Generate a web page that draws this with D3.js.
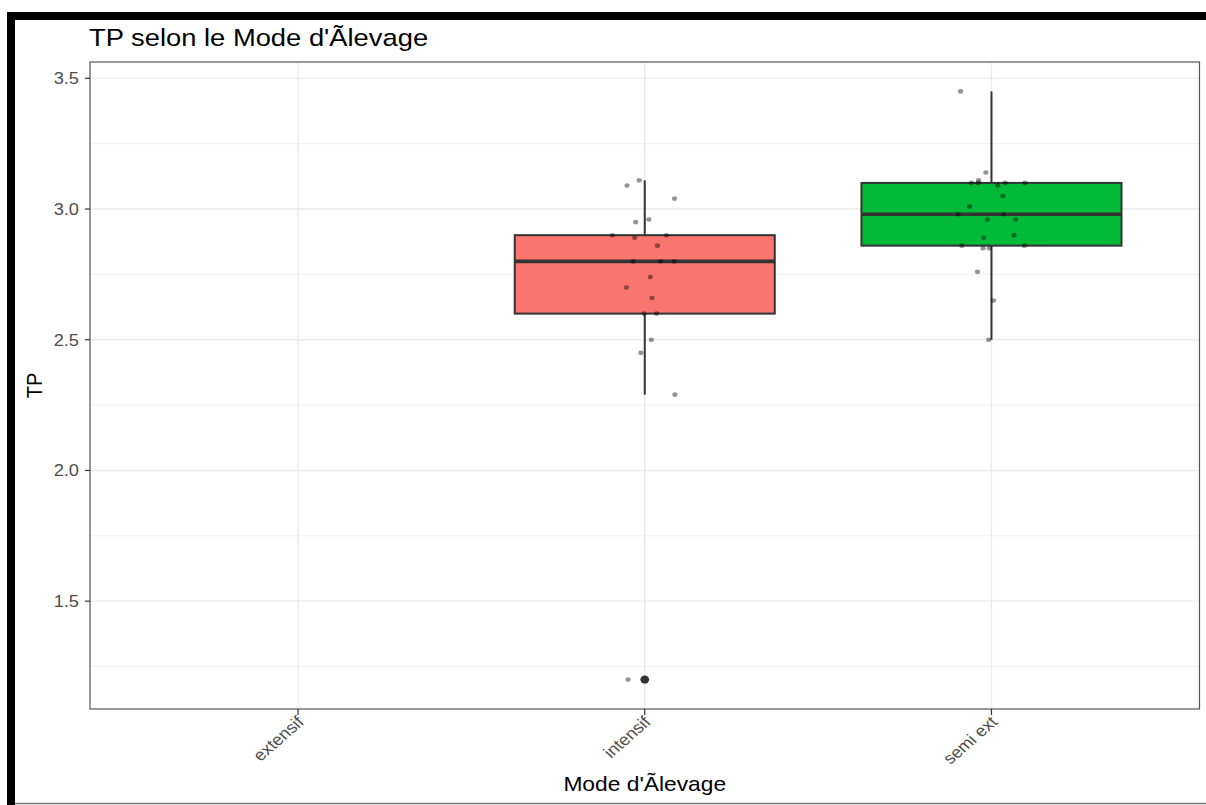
<!DOCTYPE html>
<html>
<head>
<meta charset="utf-8">
<script src="https://cdn.jsdelivr.net/npm/d3@7"></script>
<style>
  html, body { margin: 0; padding: 0; background: #fff; }
  svg { display: block; }
  text { font-family: "Liberation Sans", Arial, sans-serif; }
</style>
</head>
<body>
<svg id="chart" width="1206" height="805"></svg>
<script>
// ---------- data ----------
const titleText = "TP selon le Mode d'Ãlevage";
const xTitle = "Mode d'Ãlevage";
const yTitle = "TP";
const categories = ["extensif", "intensif", "semi ext"];
const yTicks = [1.5, 2.0, 2.5, 3.0, 3.5];
const yMinorTicks = [1.25, 1.75, 2.25, 2.75, 3.25];

const boxCategories = ["intensif", "semi ext"];
const boxColors = ["#F8766D", "#00BA38"];
const q1 = [2.60, 2.86];
const medians = [2.80, 2.98];
const q3 = [2.90, 3.10];
const whiskerLow = [2.29, 2.50];
const whiskerHigh = [3.11, 3.45];
const outliers = [[1.20], []];

const intensifValues = [3.09, 3.11, 3.04, 2.95, 2.96, 2.90, 2.89, 2.90, 2.86, 2.80, 2.80, 2.80, 2.74, 2.70, 2.66, 2.60, 2.60, 2.50, 2.45, 2.29, 1.20];
const intensifJitter = [-0.051, -0.016, 0.086, -0.026, 0.012, -0.093, -0.029, 0.063, 0.037, -0.033, 0.046, 0.085, 0.016, -0.053, 0.021, -0.002, 0.034, 0.019, -0.011, 0.087, -0.048];
const semiValues = [3.45, 3.14, 3.10, 3.11, 3.10, 3.09, 3.10, 3.10, 3.05, 3.01, 2.98, 2.98, 2.96, 2.96, 2.90, 2.89, 2.86, 2.85, 2.85, 2.86, 2.76, 2.65, 2.50];
const semiJitter = [-0.089, -0.016, -0.058, -0.037, -0.038, 0.018, 0.040, 0.097, 0.033, -0.063, -0.096, 0.035, -0.012, 0.070, 0.065, -0.022, -0.085, -0.024, -0.006, 0.095, -0.040, 0.006, -0.008];

// ---------- layout ----------
const W = 1206, H = 805;
const panel = { left: 90, right: 1199.5, top: 62, bottom: 709 };
const SX = 1.14; // horizontal text stretch seen in the reference

const svg = d3.select("#chart");

const x = d3.scalePoint().domain(categories).range([panel.left, panel.right]).padding(0.6);
const step = x.step();
const yExt = [1.2, 3.45];
const pad = (yExt[1] - yExt[0]) * 0.05;
const y = d3.scaleLinear().domain([yExt[0] - pad, yExt[1] + pad]).range([panel.bottom, panel.top]);

// outer frame (black bars as in reference)
svg.append("rect").attr("x", 7).attr("y", 12).attr("width", W - 7).attr("height", 8).attr("fill", "#000");
svg.append("rect").attr("x", 7).attr("y", 12).attr("width", 8).attr("height", H - 12).attr("fill", "#000");
svg.append("line").attr("x1", 15).attr("x2", W).attr("y1", 803.5).attr("y2", 803.5).attr("stroke", "#777").attr("stroke-width", 1.5);

// grid
const grid = svg.append("g");
grid.selectAll(".ymin").data(yMinorTicks).join("line")
  .attr("x1", panel.left).attr("x2", panel.right)
  .attr("y1", d => y(d)).attr("y2", d => y(d))
  .attr("stroke", "#F0F0F0").attr("stroke-width", 1);
grid.selectAll(".ymaj").data(yTicks).join("line")
  .attr("x1", panel.left).attr("x2", panel.right)
  .attr("y1", d => y(d)).attr("y2", d => y(d))
  .attr("stroke", "#EBEBEB").attr("stroke-width", 1.4);
grid.selectAll(".xmaj").data(categories).join("line")
  .attr("x1", d => x(d)).attr("x2", d => x(d))
  .attr("y1", panel.top).attr("y2", panel.bottom)
  .attr("stroke", "#EBEBEB").attr("stroke-width", 1.4);

// boxes
const boxW = step * 0.75;
const boxes = svg.append("g");
boxCategories.forEach((c, i) => {
  const cx = x(c);
  const g = boxes.append("g");
  g.append("line").attr("x1", cx).attr("x2", cx).attr("y1", y(q3[i])).attr("y2", y(whiskerHigh[i]))
    .attr("stroke", "#333").attr("stroke-width", 2);
  g.append("line").attr("x1", cx).attr("x2", cx).attr("y1", y(q1[i])).attr("y2", y(whiskerLow[i]))
    .attr("stroke", "#333").attr("stroke-width", 2);
  g.append("rect").attr("x", cx - boxW / 2).attr("width", boxW)
    .attr("y", y(q3[i])).attr("height", y(q1[i]) - y(q3[i]))
    .attr("fill", boxColors[i]).attr("stroke", "#333").attr("stroke-width", 2);
  g.append("line").attr("x1", cx - boxW / 2).attr("x2", cx + boxW / 2)
    .attr("y1", y(medians[i])).attr("y2", y(medians[i]))
    .attr("stroke", "#333").attr("stroke-width", 3.6);
  g.selectAll("ellipse").data(outliers[i]).join("ellipse")
    .attr("cx", cx).attr("cy", d => y(d)).attr("rx", 4.4).attr("ry", 4).attr("fill", "#333");
});

// jittered points
const pts = svg.append("g");
const jitterSets = [
  { cat: "intensif", values: intensifValues, jitter: intensifJitter },
  { cat: "semi ext", values: semiValues, jitter: semiJitter }
];
jitterSets.forEach(s => {
  pts.selectAll(null).data(s.values).join("ellipse")
    .attr("cx", (d, i) => x(s.cat) + s.jitter[i] * step)
    .attr("cy", d => y(d))
    .attr("rx", 2.6).attr("ry", 2.3)
    .attr("fill", "#000").attr("fill-opacity", 0.42);
});

// panel border
svg.append("rect").attr("x", panel.left).attr("y", panel.top)
  .attr("width", panel.right - panel.left).attr("height", panel.bottom - panel.top)
  .attr("fill", "none").attr("stroke", "#555").attr("stroke-width", 1.2);

// y axis ticks & labels
const yAxis = svg.append("g");
yAxis.selectAll("line").data(yTicks).join("line")
  .attr("x1", panel.left - 5).attr("x2", panel.left)
  .attr("y1", d => y(d)).attr("y2", d => y(d))
  .attr("stroke", "#333").attr("stroke-width", 1.2);
yAxis.selectAll("g").data(yTicks).join("g")
  .attr("transform", d => `translate(${panel.left - 11},${y(d)}) scale(${SX},1)`)
  .append("text").attr("text-anchor", "end").attr("dy", "0.36em")
  .attr("font-size", 16).attr("fill", "#4D4D4D").text(d3.format(".1f"));

// x axis ticks & labels
const xAxis = svg.append("g");
xAxis.selectAll("line").data(categories).join("line")
  .attr("x1", d => x(d)).attr("x2", d => x(d))
  .attr("y1", panel.bottom).attr("y2", panel.bottom + 6)
  .attr("stroke", "#333").attr("stroke-width", 1.2);
xAxis.selectAll("g").data(categories).join("g")
  .attr("transform", d => `translate(${x(d) + 7},${panel.bottom + 14}) scale(${SX},1) rotate(-45)`)
  .append("text").attr("text-anchor", "end")
  .attr("font-size", 16).attr("fill", "#4D4D4D").text(d => d);

// titles
svg.append("g").attr("transform", `translate(${panel.left - 1},46) scale(${SX},1)`)
  .append("text").attr("font-size", 24).attr("fill", "#000").text(titleText);
svg.append("g").attr("transform", `translate(${(panel.left + panel.right) / 2},791) scale(${SX},1)`)
  .append("text").attr("text-anchor", "middle").attr("font-size", 20).attr("fill", "#000").text(xTitle);
svg.append("g").attr("transform", `translate(42,${(panel.top + panel.bottom) / 2}) scale(${SX},1) rotate(-90)`)
  .append("text").attr("text-anchor", "middle").attr("font-size", 20).attr("fill", "#000").text(yTitle);
</script>
</body>
</html>
